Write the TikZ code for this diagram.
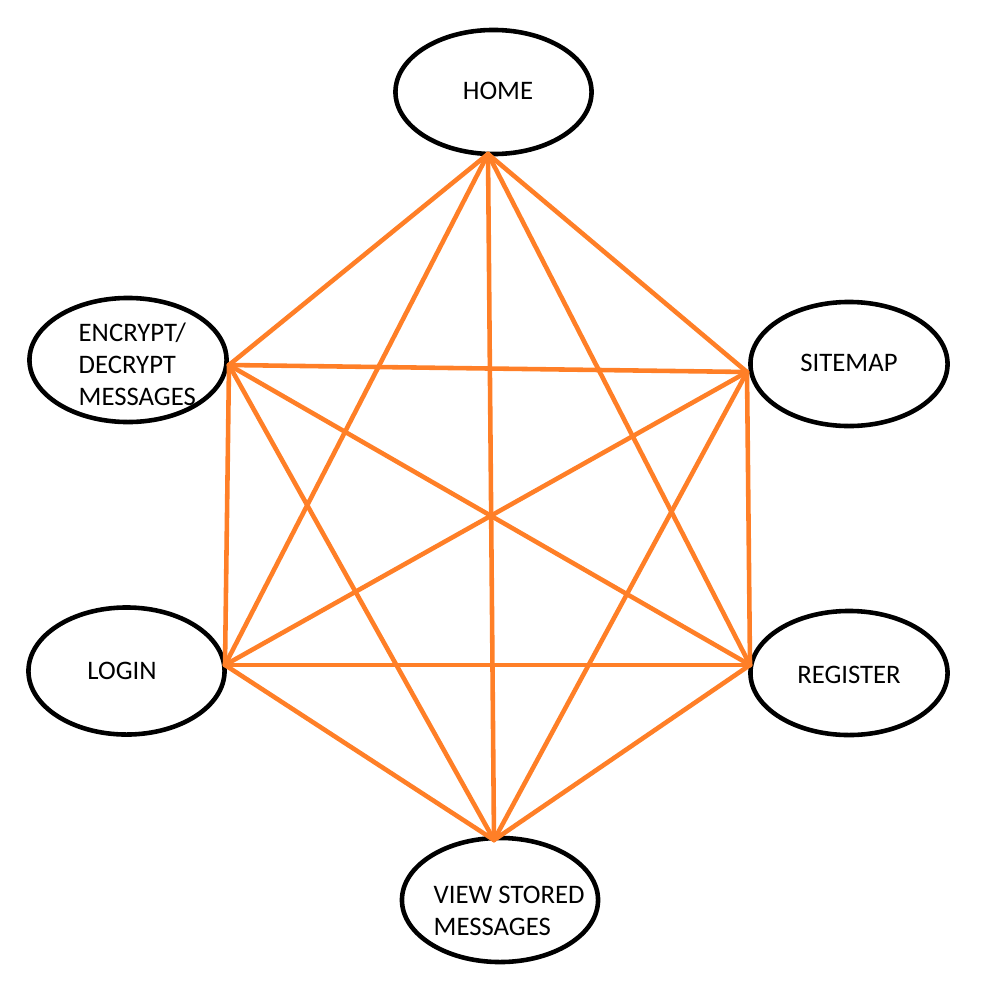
\documentclass[tikz,border=0pt]{standalone}
\usepackage{fontspec}
\setmainfont{Carlito}
\usetikzlibrary{shapes.geometric}
\definecolor{paintorange}{RGB}{255,127,39}
\tikzset{
  oval/.style={ellipse, draw=black, line width=1.3pt, inner sep=0pt, minimum width=1.96cm, minimum height=1.24cm},
  lbl/.style={font=\fontsize{7.6pt}{9.1pt}\selectfont, inner sep=0pt},
  link/.style={draw=paintorange, line width=1.3pt, line cap=round}
}
\begin{document}
\begin{tikzpicture}[x=0.01cm, y=-0.01cm]
\useasboundingbox (0,0) rectangle (1000,1000);
% ellipses
\node[oval] (home) at (493.5,92) {};
\node[oval, minimum width=1.97cm] (encrypt) at (128,360) {};
\node[oval, minimum width=1.97cm] (sitemap) at (849,364) {};
\node[oval, minimum width=1.97cm] (register) at (849,673) {};
\node[oval] (view) at (500,900) {};
\node[oval, minimum height=1.27cm] (login) at (126.5,671) {};
% texts
\node[lbl] (thome) at (498,91) {HOME};
\node[lbl, align=left, anchor=west] (tencrypt) at (78,364) {ENCRYPT/\\DECRYPT\\MESSAGES};
\node[lbl] (tsitemap) at (849,363) {SITEMAP};
\node[lbl] (tregister) at (849,675) {REGISTER};
\node[lbl] (tlogin) at (122,671) {LOGIN};
\node[lbl, align=left, anchor=west] (tview) at (433,911) {VIEW STORED\\MESSAGES};
% connector ends
\coordinate (H) at (488,154);
\coordinate (S) at (747,372);
\coordinate (R) at (750,665);
\coordinate (V) at (494,840);
\coordinate (L) at (225,665);
\coordinate (E) at (229,365);
% complete graph
\draw[link] (H) -- (S);
\draw[link] (H) -- (R);
\draw[link] (H) -- (V);
\draw[link] (H) -- (L);
\draw[link] (H) -- (E);
\draw[link] (S) -- (R);
\draw[link] (S) -- (V);
\draw[link] (S) -- (L);
\draw[link] (S) -- (E);
\draw[link] (R) -- (V);
\draw[link] (R) -- (L);
\draw[link] (R) -- (E);
\draw[link] (V) -- (L);
\draw[link] (V) -- (E);
\draw[link] (L) -- (E);
\end{tikzpicture}
\end{document}
